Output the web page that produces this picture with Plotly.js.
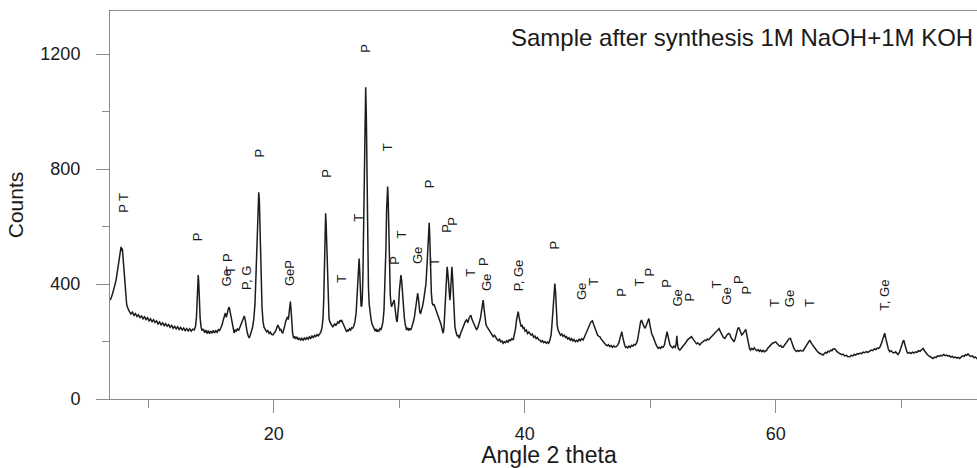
<!DOCTYPE html>
<html>
<head>
<meta charset="utf-8">
<script src="https://cdn.plot.ly/plotly-3.0.1.min.js"></script>
<style>
html,body{margin:0;padding:0;overflow:hidden;background:#fff;}
#chart{width:988px;height:468px;}
</style>
</head>
<body>
<div id="chart"></div>
<script>
// XRD scan: [angle 2 theta, counts]
const scan = [
[6.95,344],[7.05,352],[7.15,366],[7.25,380],[7.35,398],[7.45,418],[7.55,445],[7.65,478],[7.72,505],[7.78,520],[7.83,529],[7.88,516],[7.93,524],[7.98,498],[8.04,462],[8.10,418],[8.16,380],[8.22,350],[8.28,328],[8.35,318],[8.42,310],[8.50,304],
[8.62,296],[8.74,302],[8.86,291],[8.98,297],[9.10,287],[9.22,293],[9.34,282],[9.46,290],[9.58,279],[9.70,286],[9.82,276],[9.94,283],[10.06,272],[10.18,279],[10.30,268],[10.42,276],[10.54,266],[10.66,272],[10.78,261],[10.90,268],[11.02,258],[11.14,265],[11.26,255],[11.38,262],[11.50,253],[11.62,259],[11.74,249],[11.86,256],[11.98,246],[12.10,253],[12.22,244],[12.34,251],[12.46,242],[12.58,249],[12.70,240],[12.82,247],[12.94,238],[13.06,245],[13.18,237],[13.30,244],[13.42,236],[13.54,243],[13.66,240],[13.76,252],[13.84,285],[13.90,350],[13.95,410],[13.98,431],[14.02,405],[14.07,340],[14.13,282],[14.20,252],[14.28,238],
[14.38,244],[14.48,231],[14.58,240],[14.68,228],[14.78,238],[14.88,227],[14.98,236],[15.08,229],[15.18,239],[15.28,230],[15.38,237],[15.48,232],[15.58,241],[15.68,238],[15.78,248],[15.88,258],[15.98,276],[16.06,290],[16.14,299],[16.22,284],[16.30,302],[16.38,314],[16.45,320],[16.52,305],[16.60,280],[16.68,258],[16.76,244],[16.84,230],[16.92,241],[17.00,236],[17.10,244],[17.20,238],[17.30,250],[17.40,262],[17.50,278],[17.58,287],[17.65,289],[17.72,276],[17.80,250],[17.88,232],[17.96,220],[18.04,212],[18.12,222],[18.20,232],[18.30,248],[18.40,275],[18.50,330],[18.58,430],[18.66,560],[18.74,680],[18.80,719],[18.85,690],[18.92,560],[18.99,420],[19.06,320],[19.14,270],[19.22,250],[19.32,242],[19.42,234],[19.52,238],[19.62,228],[19.72,233],[19.82,225],[19.93,223],[20.04,230],[20.14,236],[20.24,248],[20.32,257],[20.40,250],[20.48,240],[20.56,244],[20.64,232],[20.72,230],[20.80,240],[20.88,256],[20.96,272],[21.04,283],[21.10,286],[21.16,276],[21.22,300],[21.28,332],[21.32,339],[21.38,308],[21.44,262],[21.50,228],[21.58,212],[21.66,218],[21.74,209],[21.84,216],[21.94,206],[22.04,213],[22.14,204],[22.24,211],[22.34,205],[22.44,212],[22.54,207],[22.64,214],[22.74,208],[22.84,216],[22.94,211],[23.04,219],[23.14,214],[23.24,221],[23.34,217],[23.44,224],[23.54,220],[23.64,228],[23.74,232],[23.84,248],[23.92,280],[23.98,350],[24.04,480],[24.09,600],[24.13,646],[24.17,610],[24.22,520],[24.28,400],[24.34,320],[24.40,280],[24.46,269],
[24.54,262],[24.62,258],[24.70,250],[24.78,256],[24.86,262],[24.94,255],[25.02,262],[25.10,268],[25.18,264],[25.26,272],[25.34,270],[25.40,275],[25.48,266],[25.56,258],[25.64,246],[25.72,240],[25.80,234],[25.88,240],[25.96,238],[26.04,244],[26.12,240],[26.20,248],[26.28,246],[26.36,252],[26.46,268],[26.56,300],[26.64,360],[26.70,430],[26.76,480],[26.80,489],[26.85,440],[26.90,360],[26.95,325],[27.00,321],[27.05,350],[27.10,430],[27.16,620],[27.22,850],[27.27,1010],[27.32,1085],[27.37,990],[27.42,760],[27.48,520],[27.54,390],[27.60,330],[27.66,299],[27.74,280],[27.82,262],[27.90,252],[27.98,244],[28.06,238],[28.14,242],[28.22,234],[28.30,240],[28.38,236],[28.46,245],[28.54,242],[28.62,252],[28.70,270],[28.78,310],[28.86,390],[28.93,520],[28.99,660],[29.04,730],[29.07,739],[29.11,700],[29.16,580],[29.22,440],[29.28,360],[29.34,330],[29.39,321],[29.45,330],[29.52,342],[29.59,344],[29.65,320],[29.72,290],[29.78,272],[29.83,269],[29.89,290],[29.95,330],[30.01,380],[30.07,420],[30.13,431],[30.19,410],[30.25,370],[30.32,320],[30.40,282],[30.48,258],[30.58,240],[30.66,248],[30.74,238],[30.82,246],[30.90,240],[30.98,248],[31.06,258],[31.14,272],[31.22,290],[31.30,315],[31.38,345],[31.46,368],[31.52,350],[31.58,315],[31.64,300],[31.70,298],[31.78,310],[31.86,325],[31.94,345],[32.04,368],[32.12,400],[32.20,460],[32.27,540],[32.33,600],[32.38,613],[32.43,560],[32.49,450],[32.55,370],[32.62,333],[32.70,326],[32.76,330],[32.83,321],[32.92,310],[33.02,298],[33.12,285],[33.23,275],[33.32,260],[33.42,240],[33.50,229],[33.56,250],[33.62,310],[33.68,390],[33.74,445],[33.81,460],[33.88,430],[33.95,370],[34.03,344],[34.08,370],[34.13,430],[34.19,460],[34.25,420],[34.31,340],[34.37,280],[34.43,252],[34.52,232],[34.62,218],[34.70,222],[34.77,211],[34.86,225],[34.96,238],[35.06,250],[35.16,262],[35.26,270],[35.36,275],[35.46,266],[35.56,282],[35.64,288],[35.70,292],[35.78,278],[35.86,270],[35.96,258],[36.06,248],[36.16,240],[36.26,250],[36.36,262],[36.46,280],[36.56,310],[36.62,335],[36.68,344],[36.74,318],[36.82,280],[36.90,260],[36.98,252],[37.08,244],[37.18,236],[37.28,230],[37.38,224],[37.48,217],[37.58,222],[37.68,212],[37.78,208],[37.88,203],[37.98,208],[38.08,199],[38.18,202],[38.27,194],[38.36,199],[38.46,196],[38.56,203],[38.66,198],[38.76,206],[38.86,203],[38.96,210],[39.07,205],[39.16,220],[39.26,245],[39.34,275],[39.41,298],[39.47,304],[39.54,285],[39.62,262],[39.70,252],[39.78,256],[39.86,246],[39.94,248],[40.02,236],[40.12,240],[40.22,228],[40.32,233],[40.40,229],[40.50,222],[40.60,226],[40.70,215],[40.80,219],[40.90,210],[41.00,214],[41.10,206],[41.20,205],[41.30,199],[41.40,203],[41.50,196],[41.60,200],[41.70,194],[41.80,198],[41.90,194],[42.00,205],[42.10,225],[42.18,270],[42.25,330],[42.32,385],[42.39,402],[42.45,370],[42.52,300],[42.58,255],[42.65,240],[42.74,228],[42.84,222],[42.94,226],[43.04,218],[43.14,222],[43.24,214],[43.32,217],[43.42,209],[43.52,213],[43.62,205],[43.72,210],[43.82,202],[43.92,207],[44.02,199],[44.12,204],[44.22,200],[44.32,208],[44.42,203],[44.52,210],[44.64,205],[44.74,215],[44.84,225],[44.94,238],[45.04,250],[45.14,260],[45.24,266],[45.32,270],[45.39,272],[45.46,262],[45.54,252],[45.62,240],[45.70,232],[45.80,222],[45.90,218],[45.97,217],[46.06,210],[46.16,204],[46.26,198],[46.36,192],[46.46,188],[46.56,185],[46.66,189],[46.77,182],[46.88,186],[46.98,180],[47.08,185],[47.18,181],[47.30,182],[47.40,188],[47.50,196],[47.58,212],[47.65,228],[47.73,234],[47.80,215],[47.88,196],[47.96,186],[48.04,180],[48.10,182],[48.20,178],[48.30,184],[48.40,180],[48.50,187],[48.60,184],[48.70,190],[48.80,188],[48.90,194],[48.98,205],[49.06,228],[49.14,252],[49.22,268],[49.29,275],[49.36,262],[49.44,258],[49.52,250],[49.58,246],[49.64,252],[49.72,262],[49.80,270],[49.86,278],[49.90,277],[49.96,258],[50.04,238],[50.12,225],[50.22,217],[50.30,205],[50.40,195],[50.50,185],[50.62,176],[50.72,180],[50.82,176],[50.92,182],[51.02,180],[51.12,188],[51.20,205],[51.27,225],[51.33,234],[51.40,220],[51.48,198],[51.56,188],[51.68,182],[51.78,178],[51.88,184],[51.98,180],[52.06,192],[52.11,220],[52.15,195],[52.22,176],[52.35,170],[52.46,176],[52.56,180],[52.66,186],[52.76,192],[52.86,198],[52.96,206],[53.06,210],[53.16,214],[53.28,217],[53.38,210],[53.48,204],[53.58,197],[53.68,192],[53.78,195],[53.88,188],[53.94,188],[54.04,194],[54.14,198],[54.24,202],[54.34,205],[54.44,203],[54.54,209],[54.64,206],[54.74,211],[54.84,216],[54.94,222],[55.04,226],[55.14,230],[55.24,234],[55.34,238],[55.42,244],[55.48,245],[55.56,236],[55.64,228],[55.72,222],[55.82,214],[55.93,211],[56.02,218],[56.12,224],[56.22,228],[56.33,225],[56.42,214],[56.52,206],[56.60,200],[56.67,199],[56.76,210],[56.86,228],[56.96,244],[57.05,249],[57.12,240],[57.20,228],[57.28,223],[57.36,226],[57.44,232],[57.52,240],[57.60,242],[57.66,228],[57.74,205],[57.82,188],[57.90,176],[57.98,170],[58.08,176],[58.18,172],[58.28,178],[58.38,172],[58.48,168],[58.58,172],[58.68,166],[58.78,170],[58.88,165],[58.98,169],[59.08,164],[59.18,168],[59.25,168],[59.34,176],[59.44,182],[59.54,186],[59.64,190],[59.74,194],[59.84,196],[59.92,199],[59.99,199],[60.08,194],[60.18,188],[60.28,184],[60.38,186],[60.48,180],[60.57,180],[60.66,186],[60.76,192],[60.86,198],[60.96,204],[61.06,210],[61.16,211],[61.24,200],[61.32,188],[61.42,178],[61.52,170],[61.64,165],[61.74,169],[61.84,166],[61.94,170],[62.04,167],[62.17,168],[62.28,175],[62.40,184],[62.50,192],[62.60,200],[62.70,205],[62.78,198],[62.86,190],[62.96,186],[63.06,180],[63.14,174],[63.23,168],[63.34,164],[63.44,160],[63.54,157],[63.64,155],[63.76,153],[63.86,158],[63.96,162],[64.06,160],[64.16,166],[64.26,164],[64.36,170],[64.46,168],[64.56,174],[64.69,175],[64.80,168],[64.90,164],[65.00,160],[65.12,158],[65.24,154],[65.36,156],[65.48,150],[65.60,152],[65.72,148],[65.89,147],[66.00,152],[66.12,150],[66.24,155],[66.36,153],[66.48,158],[66.60,156],[66.72,160],[66.84,158],[66.96,163],[67.08,161],[67.20,165],[67.32,162],[67.48,165],[67.60,170],[67.72,168],[67.84,174],[67.96,172],[68.08,177],[68.18,176],[68.28,180],[68.38,190],[68.48,205],[68.58,222],[68.67,229],[68.76,210],[68.86,188],[68.96,174],[69.07,165],[69.18,168],[69.30,162],[69.42,160],[69.54,164],[69.64,158],[69.73,155],[69.84,162],[69.94,172],[70.04,188],[70.12,200],[70.19,205],[70.26,192],[70.34,176],[70.44,164],[70.53,159],[70.64,162],[70.76,158],[70.88,163],[71.00,160],[71.12,164],[71.24,162],[71.36,168],[71.48,166],[71.60,172],[71.73,176],[71.84,168],[71.96,160],[72.08,154],[72.20,150],[72.32,146],[72.44,144],[72.52,141],[72.64,146],[72.76,144],[72.88,150],[73.00,148],[73.12,152],[73.24,150],[73.36,155],[73.48,151],[73.59,153],[73.70,149],[73.82,151],[73.94,146],[74.06,148],[74.18,144],[74.30,146],[74.42,142],[74.54,145],[74.65,141],[74.76,146],[74.88,150],[75.00,148],[75.10,154],[75.20,152],[75.31,157],[75.42,151],[75.54,148],[75.66,150],[75.78,144],[75.90,146],[76.00,141],[76.12,145],[76.24,143],[76.36,146],[76.48,142],[76.60,144],[76.72,140],[76.84,143],[76.90,141]
];

// Phase labels (text, angle, counts position of label)
const labelText = ["P T","P","Ge","T","P","P, G","GeP","P","P","T","T","P","T","P","T","Ge","P","T","P","P","T","Ge","P","P, Ge","P","Ge","T","P","T","P","P","Ge","P","T","Ge","P","P","T","Ge","T","T, Ge"];
const labelAngle = [8.01,13.93,16.23,16.59,16.27,17.78,21.21,18.82,24.19,25.43,26.78,27.31,29.13,29.65,30.18,31.50,32.38,32.83,33.77,34.24,35.68,37.00,36.76,39.47,42.39,44.52,45.52,47.70,49.16,49.96,51.29,52.13,53.14,55.27,56.11,56.99,57.66,59.91,61.11,62.70,68.67];
const labelCounts = [684,565,421,449,494,421,438,858,785,418,630,1221,877,484,571,498,748,477,595,619,438,404,477,431,537,374,408,371,405,443,403,350,356,397,356,414,379,333,350,333,362];

const xTitle = "Angle 2 theta";
const yTitle = "Counts";
const chartTitle = "Sample after synthesis 1M NaOH+1M KOH";

const twoTheta = scan.map(p => p[0]);
const counts = scan.map(p => p[1]);

const FONT = "'Liberation Sans', Arial, sans-serif";
const AX = "#8c8c8c";

const annotations = labelText.map((t, i) => ({
  x: labelAngle[i], y: labelCounts[i], xref: "x", yref: "y",
  text: t, showarrow: false, textangle: -90,
  xanchor: "center", yanchor: "middle",
  font: {family: FONT, size: 13, color: "#1a1a1a"}
}));
annotations.push({
  x: 0.9852, y: 0.932, xref: "paper", yref: "paper",
  text: chartTitle, showarrow: false, xanchor: "right", yanchor: "middle",
  font: {family: FONT, size: 24, color: "#1a1a1a"}
});

const trace = {
  x: twoTheta, y: counts, type: "scatter", mode: "lines",
  line: {color: "#1c1c1c", width: 1.5},
  hoverinfo: "x+y"
};

const layout = {
  width: 988, height: 468,
  margin: {l: 110, r: 0, t: 11, b: 69},
  paper_bgcolor: "#fff", plot_bgcolor: "#fff",
  showlegend: false,
  font: {family: FONT, color: "#1a1a1a"},
  xaxis: {
    range: [6.95, 76.9], showgrid: false, zeroline: false,
    showline: true, linecolor: AX, linewidth: 1, mirror: true,
    ticks: "outside", ticklen: 13, tickcolor: AX, tickwidth: 1,
    tick0: 0, dtick: 20,
    minor: {dtick: 10, tick0: 0, ticks: "outside", ticklen: 8, tickcolor: AX, showgrid: false},
    tickfont: {family: FONT, size: 18, color: "#1a1a1a"},
    ticklabelstandoff: 5,
    title: {text: xTitle, font: {family: FONT, size: 23, color: "#1a1a1a"}, standoff: 4}
  },
  yaxis: {
    range: [0, 1350], showgrid: false, zeroline: false,
    showline: true, linecolor: AX, linewidth: 1,
    ticks: "outside", ticklen: 13, tickcolor: AX, tickwidth: 1,
    tick0: 0, dtick: 400,
    minor: {dtick: 200, tick0: 0, ticks: "outside", ticklen: 7, tickcolor: AX, showgrid: false},
    tickfont: {family: FONT, size: 18, color: "#1a1a1a"},
    ticklabelstandoff: 12,
    title: {text: yTitle, font: {family: FONT, size: 21, color: "#1a1a1a"}, standoff: 11}
  },
  annotations: annotations
};

Plotly.newPlot("chart", [trace], layout, {staticPlot: true, displayModeBar: false});
</script>
</body>
</html>
